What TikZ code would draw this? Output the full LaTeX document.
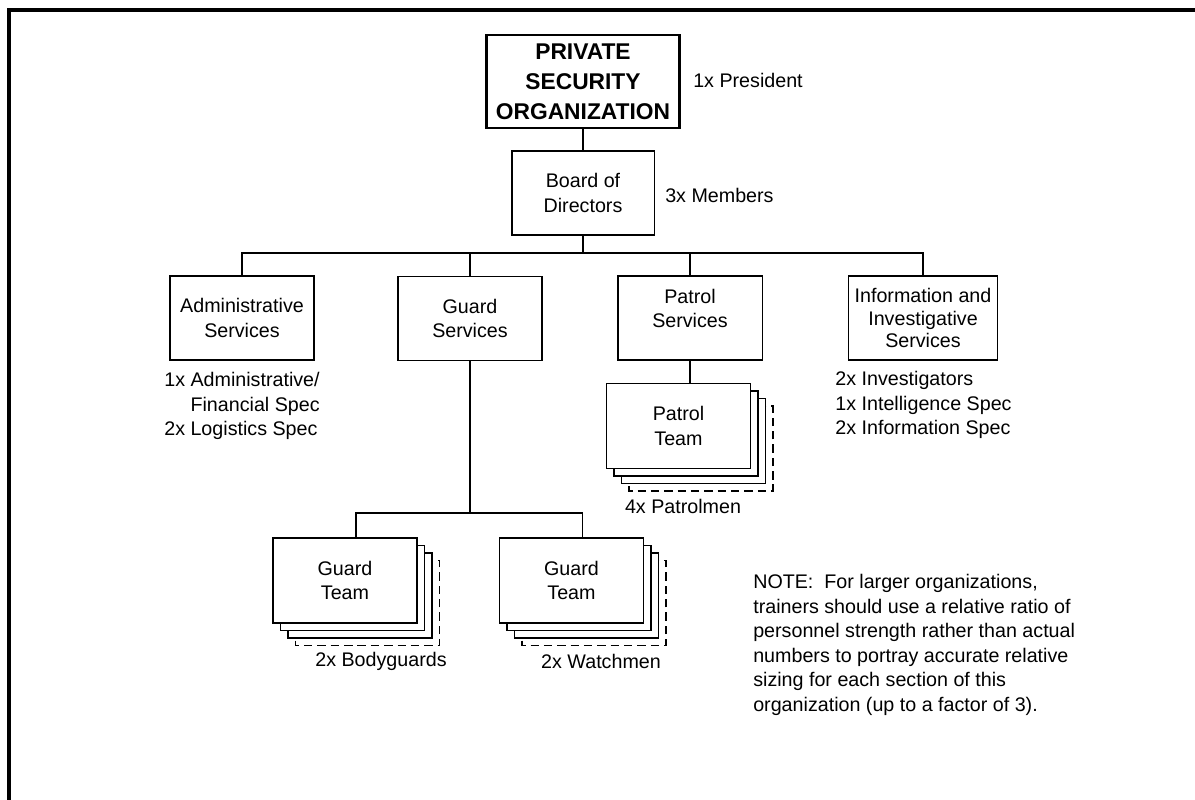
\documentclass[tikz,border=0pt]{standalone}
\usepackage{fontspec}
\setmainfont{Liberation Sans}
\tikzset{
  orgframe/.style={line width=2.9pt, draw=black},
  topbox/.style={draw=black, line width=1.5pt, fill=white, minimum width=4.825cm, minimum height=2.325cm, inner sep=0pt, align=center, font=\bfseries\fontsize{16.2}{21.3}\selectfont},
  unitbox/.style={draw=black, line width=0.75pt, fill=white, minimum width=3.6cm, minimum height=2.1cm, inner sep=0pt, align=center, font=\fontsize{14}{17.4}\selectfont},
  teambox/.style={unitbox, minimum height=2.125cm},
  layer/.style={draw=black, line width=0.75pt, fill=white},
  layerdash/.style={layer, dash pattern=on 6pt off 3.5pt},
  strength/.style={inner sep=0pt, align=left, font=\fontsize{14}{17.4}\selectfont},
  link/.style={draw=black, line width=0.75pt},
}

\begin{document}
\begin{tikzpicture}[x=0.025cm, y=-0.025cm]
\useasboundingbox (0,0) rectangle (1195,800);
\draw[orgframe] (9,800) -- (9,10) -- (1195,10);

\node[topbox] (pso) at (583,81.5) {PRIVATE\\SECURITY\\ORGANIZATION};
\node[strength, anchor=west] (pres) at (693,80) {1x President};
\node[unitbox, minimum width=3.55cm] (board) at (583,193) {Board of\\Directors};
\node[strength, anchor=west] (members) at (665,195) {3x Members};

\node[unitbox] (admin) at (242,318) {Administrative\\Services};
\node[unitbox] (guard) at (470,318.5) {Guard\\Services};
\node[unitbox, text depth=14pt] (patrol) at (690,318) {Patrol\\Services};
\node[unitbox, minimum width=3.725cm, font=\fontsize{14}{15.7}\selectfont] (info) at (923,318) {Information and\\Investigative\\Services};

\node[strength] (adminstr) at (242,406) {1x Administrative/\\\phantom{1x }Financial Spec\\2x Logistics Spec};
\node[strength] (infostr) at (923.5,405) {2x Investigators\\1x Intelligence Spec\\2x Information Spec};

\coordinate (mbus) at (583,253);
\draw[link] (pso.south) -- (board.north);
\draw[link] (board.south) -- (mbus);
\draw[link] (admin.north) |- (mbus) -| (info.north);
\draw[link] (guard.north) -- (guard.north |- mbus);
\draw[link] (patrol.north) -- (patrol.north |- mbus);

\foreach \k/\ls in {3/layerdash,2/layer,1/layer}
  \draw[\ls] ([shift={(\k*7.5,\k*7.5)}]678.5,426) +(-72,-42.5) rectangle +(72,42.5);
\node[teambox] (pteam) at (678.5,426) {Patrol\\Team};
\coordinate (pstack) at (690,383.5);
\draw[link] (patrol.south) -- (pstack);
\node[strength] (pmen) at (683,506) {4x Patrolmen};

\foreach \k/\ls in {3/layerdash,2/layer,1/layer}
  \draw[\ls] ([shift={(\k*7.5,\k*7.5)}]345,580.5) +(-72,-42.5) rectangle +(72,42.5);
\node[teambox] (gteam1) at (345,580.5) {Guard\\Team};
\foreach \k/\ls in {3/layerdash,2/layer,1/layer}
  \draw[\ls] ([shift={(\k*7.5,\k*7.5)}]571.5,580.5) +(-72,-42.5) rectangle +(72,42.5);
\node[teambox] (gteam2) at (571.5,580.5) {Guard\\Team};

\coordinate (gbus) at (470,513);
\coordinate (gstack1) at (356,538);
\coordinate (gstack2) at (582.5,538);
\draw[link] (guard.south) -- (gbus);
\draw[link] (gstack1) |- (gbus) -| (gstack2);
\node[strength] (guards) at (381,661) {2x Bodyguards};
\node[strength] (watch) at (601,661) {2x Watchmen};

\node[strength, anchor=west] (note) at (753,645) {NOTE:\ \ For larger organizations,\\trainers should use a relative ratio of\\personnel strength rather than actual\\numbers to portray accurate relative\\sizing for each section of this\\organization (up to a factor of 3).};
\end{tikzpicture}
\end{document}
